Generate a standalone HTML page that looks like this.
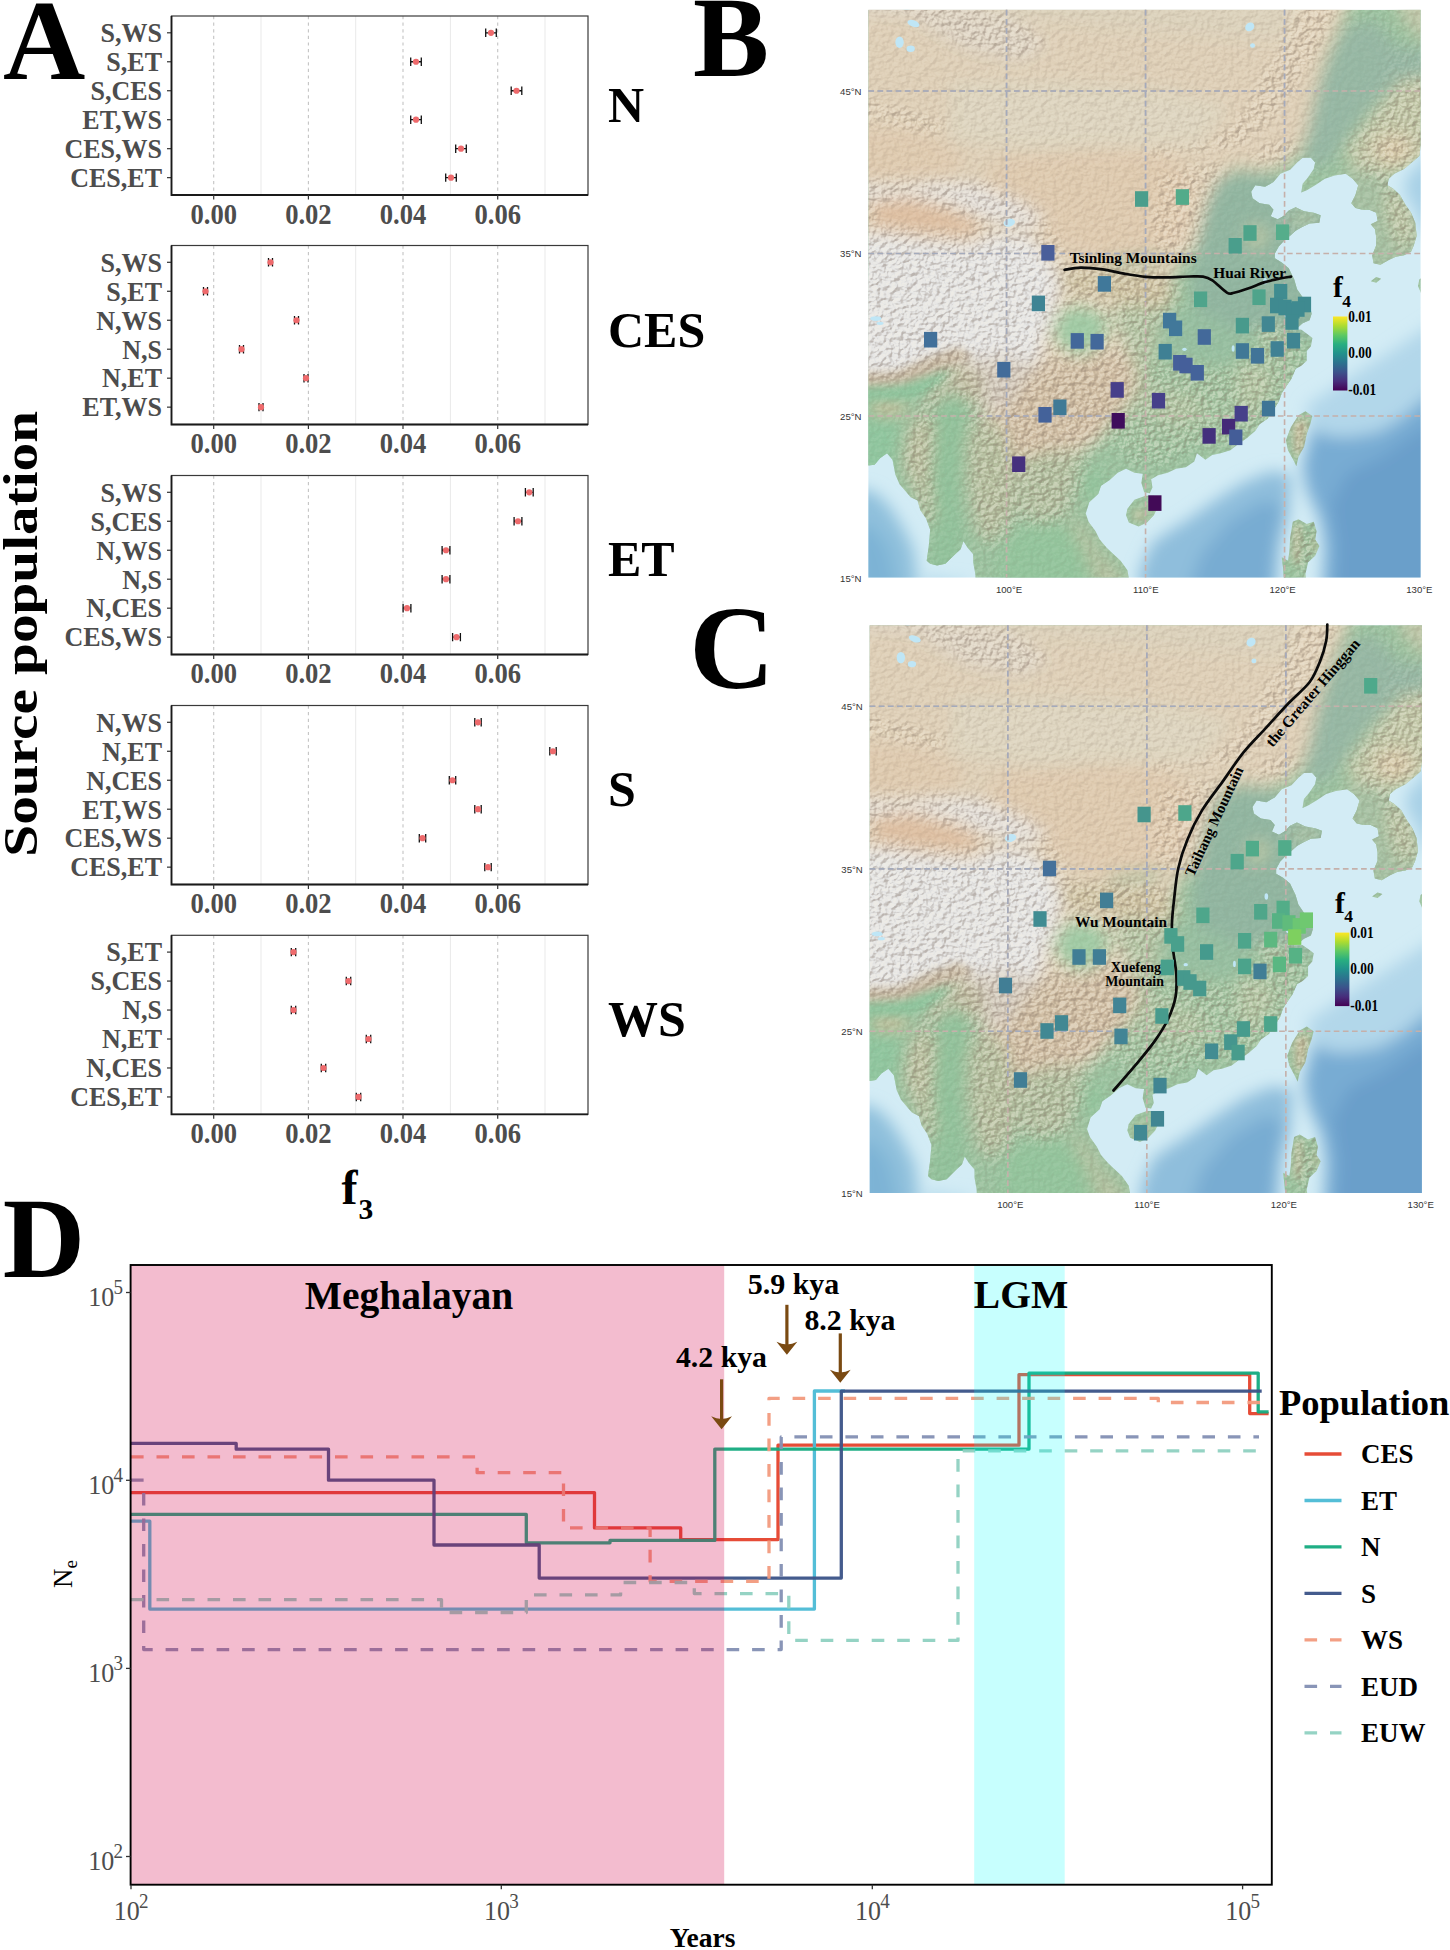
<!DOCTYPE html><html><head><meta charset="utf-8"><title>Figure</title><style>
html,body{margin:0;padding:0;background:#fff}
svg{display:block}
text{font-family:"Liberation Serif",serif}
.sb{font-family:"Liberation Serif",serif;font-weight:bold;fill:#000}
.sr{font-family:"Liberation Serif",serif;font-weight:normal;fill:#000}
.ss{font-family:"Liberation Sans",sans-serif;fill:#333}
.g{fill:#4d4d4d}
</style></head><body>
<svg width="1450" height="1950" viewBox="0 0 1450 1950">
<defs>
<linearGradient id="viridis" x1="0" y1="1" x2="0" y2="0"><stop offset="0" stop-color="#440154"/><stop offset="0.125" stop-color="#472d7b"/><stop offset="0.25" stop-color="#3b528b"/><stop offset="0.375" stop-color="#2c728e"/><stop offset="0.5" stop-color="#21918c"/><stop offset="0.625" stop-color="#28ae80"/><stop offset="0.75" stop-color="#5ec962"/><stop offset="0.875" stop-color="#addc30"/><stop offset="1" stop-color="#fde725"/></linearGradient>
<clipPath id="mapclip"><rect x="0.85" y="0.1" width="552.20" height="567.70"/></clipPath>
<clipPath id="landclip"><path d="M0.0 -8.1 L563.0 -8.1 L563.0 125.1 L556.0 130.0 L553.2 136.5 L551.8 146.2 L546.3 151.1 L536.5 159.2 L526.8 164.1 L521.2 169.0 L519.9 175.5 L525.4 178.8 L532.4 185.2 L537.9 195.0 L543.5 203.1 L547.7 212.9 L549.1 225.9 L546.3 235.6 L543.5 242.1 L536.5 245.4 L528.2 247.0 L521.2 250.2 L512.9 255.1 L506.0 253.5 L504.6 245.4 L508.7 235.6 L508.7 227.5 L507.4 219.4 L503.2 214.5 L510.1 211.2 L508.7 203.1 L501.8 199.9 L494.8 199.9 L487.9 198.3 L483.7 193.4 L487.9 185.2 L490.7 175.5 L485.1 169.0 L478.2 164.1 L467.0 165.8 L457.3 169.0 L447.6 175.5 L439.2 180.4 L433.7 182.8 L435.1 173.9 L440.6 167.4 L446.2 159.2 L447.6 152.7 L443.4 147.9 L435.1 147.9 L429.5 152.7 L422.6 160.1 L412.8 164.1 L405.9 172.3 L397.5 177.1 L387.8 175.5 L383.6 182.0 L385.0 188.5 L392.0 193.4 L401.7 195.0 L405.9 199.9 L403.1 206.4 L410.1 209.6 L415.6 206.4 L421.2 200.7 L428.1 197.4 L436.5 201.5 L446.2 203.1 L453.1 205.6 L451.8 212.9 L442.0 213.7 L433.7 217.7 L428.1 221.0 L422.6 225.9 L418.4 229.1 L411.4 236.4 L407.3 243.8 L407.3 248.6 L414.2 252.7 L421.2 258.4 L426.7 269.8 L429.5 279.5 L435.1 287.6 L442.0 294.9 L444.1 303.9 L442.0 310.4 L435.1 313.6 L429.5 318.5 L425.3 320.1 L433.7 320.1 L440.6 325.0 L444.8 328.2 L443.4 336.4 L439.2 341.2 L439.2 351.0 L433.7 355.9 L428.1 359.1 L423.9 368.9 L418.4 377.0 L414.2 383.5 L411.4 391.6 L407.3 398.1 L403.1 403.0 L400.3 408.7 L392.0 414.4 L387.8 420.9 L379.5 428.2 L371.1 433.9 L362.8 440.4 L353.1 443.6 L344.7 445.2 L337.8 450.1 L329.4 443.6 L326.7 451.8 L318.3 457.4 L308.6 459.1 L300.2 463.1 L290.5 465.6 L283.6 469.6 L284.9 477.8 L282.2 483.4 L276.6 482.6 L273.8 472.9 L275.2 463.9 L266.9 463.1 L258.5 459.1 L250.2 463.1 L241.9 470.4 L233.5 476.1 L230.7 484.2 L221.7 492.4 L218.2 503.8 L221.0 511.9 L228.0 521.6 L232.1 529.8 L239.1 537.9 L246.0 544.4 L253.0 550.9 L259.9 560.6 L262.7 576.9 L108.4 576.9 L107.7 563.9 L105.6 552.5 L105.6 544.4 L100.1 537.9 L95.9 531.4 L93.1 539.5 L87.6 544.4 L77.8 554.1 L69.5 555.8 L62.6 554.1 L59.1 550.9 L61.2 536.2 L62.6 520.0 L58.4 508.6 L52.8 500.5 L50.0 490.8 L43.1 487.5 L38.9 482.6 L32.0 474.5 L27.8 464.8 L25.0 450.1 L19.5 443.6 L12.5 448.5 L7.0 455.0 L-7.0 456.6Z M259.9 498.9 L266.9 489.9 L278.0 485.9 L286.3 485.9 L291.9 493.2 L286.3 505.4 L279.4 512.7 L271.1 516.8 L261.3 512.7 L258.5 505.4Z M430.9 405.4 L437.9 401.4 L444.8 406.2 L442.7 414.4 L439.2 424.1 L436.5 437.1 L430.9 446.9 L428.8 456.6 L425.3 449.3 L420.5 440.4 L418.4 430.6 L423.3 417.6Z M425.3 511.9 L430.9 509.4 L439.2 514.3 L446.2 511.9 L449.0 521.6 L447.6 529.8 L451.8 536.2 L447.6 546.0 L440.6 552.5 L437.9 563.9 L439.2 576.9 L417.0 576.9 L415.6 559.0 L414.2 547.6 L420.5 550.9 L421.9 541.1 L422.6 528.1Z M503.2 271.4 L508.7 267.3 L513.6 268.9 L508.7 273.0Z M551.8 269.8 L563.0 261.6 L563.0 308.8 L558.8 305.5 L558.8 292.5 L553.2 282.8 L550.4 276.2Z"/></clipPath>
<clipPath id="tanclip"><path d="M-55.6 -65.0 L507.4 -65.0 L486.5 -16.2 L472.6 16.2 L458.7 48.8 L449.0 81.2 L443.4 105.6 L439.2 125.1 L432.3 141.4 L422.6 152.7 L408.7 160.1 L389.2 160.9 L368.4 158.4 L354.4 167.4 L341.9 186.9 L339.2 195.0 L332.2 219.4 L326.7 240.5 L311.4 251.9 L308.6 266.5 L291.9 282.8 L272.4 295.8 L250.2 299.0 L229.3 289.2 L201.6 295.8 L186.3 316.9 L189.0 341.2 L208.5 351.0 L236.3 344.5 L262.7 334.8 L266.9 360.8 L262.7 385.1 L248.8 407.9 L234.9 427.4 L218.2 440.4 L196.0 448.5 L168.2 458.2 L151.5 471.2 L137.6 450.1 L125.1 422.5 L112.6 401.4 L102.9 373.8 L84.8 351.0 L59.8 357.5 L27.8 370.5 L-7.0 373.8 L-55.6 373.8Z"/></clipPath>
<filter id="b4" x="-20%" y="-20%" width="140%" height="140%"><feGaussianBlur stdDeviation="4"/></filter>
<filter id="b8" x="-20%" y="-20%" width="140%" height="140%"><feGaussianBlur stdDeviation="8"/></filter>
<filter id="b14" x="-30%" y="-30%" width="160%" height="160%"><feGaussianBlur stdDeviation="14"/></filter>
<filter id="b1" x="-5%" y="-5%" width="110%" height="110%"><feGaussianBlur stdDeviation="0.6"/></filter>
<filter id="relief" x="0" y="0" width="100%" height="100%" color-interpolation-filters="sRGB"><feTurbulence type="fractalNoise" baseFrequency="0.17 0.2" numOctaves="4" seed="11"/><feDiffuseLighting surfaceScale="4.5" diffuseConstant="0.66" lighting-color="#ffffff" result="L"><feDistantLight azimuth="225" elevation="50"/></feDiffuseLighting><feColorMatrix in="L" type="matrix" values="0 0 0 0 0.99  0 0 0 0 0.97  0 0 0 0 0.92  2.4 0 0 0 -1.15" result="hi"/><feColorMatrix in="L" type="matrix" values="0 0 0 0 0.45  0 0 0 0 0.38  0 0 0 0 0.33  -1.0 0 0 0 0.47" result="lo"/><feMerge><feMergeNode in="lo"/><feMergeNode in="hi"/></feMerge></filter>
<filter id="searelief" x="0" y="0" width="100%" height="100%" color-interpolation-filters="sRGB"><feTurbulence type="fractalNoise" baseFrequency="0.03 0.035" numOctaves="3" seed="5"/><feDiffuseLighting surfaceScale="5" diffuseConstant="0.66" lighting-color="#ffffff"><feDistantLight azimuth="225" elevation="50"/></feDiffuseLighting></filter>
<mask id="mtn" maskUnits="userSpaceOnUse" x="0" y="0" width="556.0" height="568.8"><rect x="0" y="0" width="556.0" height="568.8" fill="#5a5a5a"/><g filter="url(#b4)"><path d="M-55.6 170.6 L69.5 169.0 L125.1 172.3 L166.8 195.0 L187.7 219.4 L201.6 251.9 L236.3 255.1 L291.9 256.7 L314.1 276.2 L305.8 300.6 L284.9 316.9 L284.9 357.5 L282.2 390.0 L264.1 412.8 L241.9 432.2 L222.4 445.2 L212.7 479.4 L201.6 507.0 L173.8 516.8 L152.9 510.2 L136.2 529.8 L116.8 539.5 L107.0 511.9 L100.1 471.2 L100.1 430.6 L102.9 398.1 L83.4 377.0 L66.7 396.5 L63.9 471.2 L66.7 510.2 L58.4 515.1 L47.3 482.6 L36.1 455.0 L38.9 425.8 L52.8 396.5 L75.1 364.0 L55.6 357.5 L27.8 370.5 L-55.6 373.8Z" fill="#fff"/><path d="M282.2 351.0 L319.7 357.5 L361.4 359.1 L389.2 342.9 L389.2 315.2 L414.2 315.2 L437.9 333.1 L437.9 357.5 L412.8 403.0 L369.7 433.9 L326.7 438.8 L298.9 455.0 L264.1 455.0 L241.9 432.2 L264.1 409.5 L280.8 385.1Z" fill="#fff"/><path d="M284.9 149.5 L319.7 141.4 L354.4 141.4 L382.2 130.0 L410.1 105.6 L430.9 73.1 L451.8 40.6 L472.6 -8.1 L430.9 -8.1 L403.1 48.8 L379.5 97.5 L347.5 130.0 L312.8 138.1 L284.9 138.1Z" fill="#fff"/><path d="M286.3 170.6 L326.7 154.4 L358.6 156.0 L346.1 173.9 L336.4 203.1 L328.0 240.5 L291.9 247.0 L283.6 219.4Z" fill="#fff"/><path d="M479.6 138.1 L507.4 102.4 L536.5 66.6 L597.7 65.0 L597.7 146.2 L553.2 152.7 L549.1 211.2 L546.3 237.3 L528.2 240.5 L518.5 211.2 L514.3 178.8 L493.4 162.5Z" fill="#fff"/><path d="M382.2 152.7 L410.1 157.6 L430.9 143.0 L423.9 130.0 L396.2 133.3Z" fill="#fff"/><path d="M-55.6 -16.2 L41.7 3.3 L97.3 35.8 L152.9 48.8 L180.7 32.5 L152.9 9.8 L97.3 -6.5 L-55.6 -32.5Z" fill="#fff"/><path d="M-55.6 89.4 L0.0 89.4 L55.6 105.6 L83.4 113.8 L69.5 123.5 L0.0 110.5 L-55.6 108.9Z" fill="#fff"/><path d="M425.3 409.5 L442.0 406.2 L436.5 445.2 L428.1 450.1Z" fill="#fff"/><path d="M423.9 511.9 L450.4 511.9 L449.0 552.5 L436.5 568.8 L428.1 560.6Z" fill="#fff"/><path d="M360.0 167.4 L382.2 164.1 L405.9 169.0 L410.1 206.4 L423.9 251.9 L449.0 287.6 L458.7 316.9 L437.9 321.8 L403.1 310.4 L375.3 318.5 L340.6 316.9 L330.8 300.6 L325.3 273.0 L330.8 240.5 L339.2 203.1 L350.3 173.9Z" fill="#222"/><path d="M439.2 147.9 L444.8 121.9 L450.4 94.2 L457.3 68.3 L469.8 40.6 L480.9 21.1 L507.4 16.2 L522.6 40.6 L507.4 81.2 L494.8 104.0 L478.2 126.7 L461.5 147.9Z" fill="#222"/><path d="M191.8 307.1 L205.7 297.4 L228.0 302.2 L240.5 316.9 L230.7 333.1 L212.7 342.9 L194.6 334.8 L187.7 321.8Z" fill="#333"/><path d="M298.9 307.1 L326.7 303.9 L354.4 315.2 L372.5 325.0 L369.7 342.9 L354.4 349.4 L326.7 344.5 L308.6 342.9 L300.2 329.9Z" fill="#333"/><path d="M83.4 76.4 L194.6 76.4 L305.8 84.5 L354.4 100.8 L330.8 130.0 L250.2 133.3 L166.8 136.5 L83.4 126.7Z" fill="#666"/><path d="M194.6 146.2 L236.3 141.4 L291.9 149.5 L291.9 195.0 L250.2 201.5 L201.6 186.9Z" fill="#555"/><path d="M7.0 195.0 L41.7 190.1 L83.4 201.5 L111.2 214.5 L101.5 224.2 L55.6 221.0 L7.0 212.9Z" fill="#444"/><path d="M-55.6 117.0 L55.6 125.1 L90.4 146.2 L76.5 162.5 L27.8 165.8 L-55.6 164.1Z" fill="#555"/><path d="M162.6 518.4 L187.7 513.5 L205.7 528.1 L219.6 555.8 L225.2 601.2 L136.2 601.2 L134.8 552.5 L141.8 529.8Z" fill="#333"/><path d="M69.5 401.4 L89.0 386.8 L100.1 399.8 L93.1 438.8 L89.0 487.5 L93.1 529.8 L87.6 568.8 L61.2 568.8 L70.9 520.0 L68.1 479.4 L66.7 438.8Z" fill="#333"/><path d="M-55.6 380.2 L20.9 378.6 L55.6 368.9 L76.5 360.8 L75.1 367.2 L52.8 383.5 L27.8 390.0 L7.0 390.0 L4.2 406.2 L29.2 409.5 L27.8 435.5 L19.5 471.2 L-55.6 471.2Z" fill="#333"/><path d="M214.1 464.8 L234.9 463.1 L234.9 481.0 L222.4 490.8 L215.5 481.0Z" fill="#333"/><path d="M236.3 251.1 L282.2 245.4 L300.2 244.6 L282.2 255.1 L243.2 256.7Z" fill="#444"/></g></mask>
<g id="basemap" clip-path="url(#mapclip)" style="isolation:isolate">
<rect x="0" y="0" width="556.0" height="568.8" fill="#d3ecf5"/>
<g filter="url(#b8)">
<path d="M443.4 417.6 L458.7 425.8 L479.6 427.4 L510.1 422.5 L532.4 409.5 L553.2 391.6 L597.7 357.5 L597.7 617.5 L453.1 617.5 L457.3 536.2 L453.1 510.2 L439.2 479.4 L435.1 455.0 L440.6 435.5Z" fill="#78acd3" fill-opacity="1"/>
<path d="M479.6 463.1 L514.3 446.9 L549.1 422.5 L597.7 398.1 L597.7 617.5 L465.7 617.5 L469.8 536.2 L462.9 495.6Z" fill="#6b9fca" fill-opacity="1"/>
<path d="M437.9 396.5 L479.6 368.9 L521.2 342.9 L553.2 321.8 L597.7 292.5 L597.7 357.5 L553.2 391.6 L532.4 409.5 L510.1 422.5 L479.6 427.4 L458.7 425.8 L443.4 417.6Z" fill="#b2d7ea" fill-opacity="1"/>
<path d="M284.9 533.0 L298.9 523.2 L319.7 510.2 L347.5 490.8 L375.3 472.9 L403.1 461.5 L423.9 464.8 L421.2 503.8 L411.4 536.2 L407.3 585.0 L271.1 585.0 L272.4 560.6Z" fill="#8fbedc" fill-opacity="1"/>
<path d="M319.7 585.0 L333.6 544.4 L361.4 511.9 L396.2 490.8 L414.2 495.6 L408.7 544.4 L405.9 585.0Z" fill="#78acd2" fill-opacity="1"/>
<path d="M536.5 182.0 L549.1 203.1 L556.0 224.2 L569.9 230.8 L569.9 121.9 L558.8 133.3 L554.6 152.7 L539.3 165.8Z" fill="#a7d0e6" fill-opacity="1"/>
<path d="M-13.9 477.8 L7.0 482.6 L20.9 495.6 L34.8 516.8 L45.9 539.5 L48.6 560.6 L50.0 585.0 L-13.9 585.0Z" fill="#8fc0dc" fill-opacity="1"/>
<path d="M-13.9 511.9 L7.0 520.0 L20.9 539.5 L30.6 585.0 L-13.9 585.0Z" fill="#7db3d5" fill-opacity="1"/>
<path d="M59.8 565.5 L83.4 572.0 L97.3 570.4 L101.5 585.0 L55.6 585.0Z" fill="#b4d9eb" fill-opacity="1"/>
</g>
<g clip-path="url(#landclip)">
<rect x="0" y="0" width="556.0" height="568.8" fill="#9cc3a0"/>
<g filter="url(#b8)">
<path d="M-55.6 -65.0 L507.4 -65.0 L486.5 -16.2 L472.6 16.2 L458.7 48.8 L449.0 81.2 L443.4 105.6 L439.2 125.1 L432.3 141.4 L422.6 152.7 L408.7 160.1 L389.2 160.9 L368.4 158.4 L354.4 167.4 L341.9 186.9 L339.2 195.0 L332.2 219.4 L326.7 240.5 L311.4 251.9 L308.6 266.5 L291.9 282.8 L272.4 295.8 L258.5 312.0 L262.7 334.8 L266.9 360.8 L262.7 385.1 L248.8 407.9 L234.9 427.4 L218.2 440.4 L196.0 448.5 L168.2 458.2 L151.5 471.2 L137.6 450.1 L125.1 422.5 L112.6 401.4 L102.9 373.8 L84.8 351.0 L59.8 357.5 L27.8 370.5 L-7.0 373.8 L-55.6 373.8Z" fill="#dfd0b8" fill-opacity="1"/>
<path d="M476.8 141.4 L504.6 104.0 L535.1 68.3 L597.7 65.0 L597.7 146.2 L553.2 152.7 L528.2 165.8 L507.4 167.4 L486.5 160.9Z" fill="#c2c8a8" fill-opacity="1"/>
<path d="M504.6 131.6 L533.8 121.9 L549.1 143.0 L528.2 157.6 L510.1 149.5Z" fill="#d7c9a9" fill-opacity="1"/>
<path d="M521.2 -65.0 L597.7 -65.0 L597.7 24.4 L556.0 32.5 L532.4 8.1Z" fill="#bfc7a9" fill-opacity="1"/>
<path d="M435.1 157.6 L440.6 125.1 L446.2 97.5 L453.1 71.5 L465.7 40.6 L478.2 16.2 L507.4 9.8 L528.2 35.8 L556.0 39.0 L597.7 34.1 L597.7 61.7 L532.4 69.9 L508.7 92.6 L492.1 110.5 L476.8 130.0 L464.3 152.7 L449.0 159.2Z" fill="#97b8a4" fill-opacity="1"/>
<path d="M472.6 162.5 L500.4 159.2 L521.2 169.0 L563.0 203.1 L563.0 260.0 L500.4 264.9 L493.4 211.2 L472.6 195.0Z" fill="#a6c1a3" fill-opacity="1"/>
<path d="M518.5 175.5 L536.5 185.2 L547.7 211.2 L544.9 234.0 L531.0 237.3 L522.6 214.5 L517.1 195.0Z" fill="#bdc6a6" fill-opacity="1"/>
<path d="M357.2 165.8 L379.5 162.5 L397.5 164.9 L410.1 169.0 L421.2 180.4 L437.9 190.1 L465.7 199.9 L465.7 227.5 L423.9 251.9 L449.0 287.6 L458.7 316.9 L437.9 328.2 L403.1 318.5 L375.3 325.0 L340.6 321.8 L328.0 300.6 L322.5 273.0 L328.0 240.5 L336.4 203.1 L347.5 173.9Z" fill="#92b6a1" fill-opacity="1"/>
<path d="M378.1 216.1 L397.5 214.5 L403.1 227.5 L392.0 240.5 L378.1 237.3Z" fill="#b5c5a6" fill-opacity="1"/>
<path d="M421.2 201.5 L453.1 204.8 L451.8 214.5 L423.9 217.7Z" fill="#b0c6a7" fill-opacity="1"/>
<path d="M83.4 73.1 L194.6 73.1 L305.8 81.2 L361.4 97.5 L333.6 133.3 L250.2 136.5 L166.8 139.8 L83.4 130.0Z" fill="#ded5c0" fill-opacity="1"/>
<path d="M-55.6 -65.0 L444.8 -65.0 L417.0 32.5 L305.8 22.7 L194.6 13.0 L97.3 6.5 L-55.6 3.3Z" fill="#dcd2bc" fill-opacity="1"/>
<path d="M139.0 146.2 L236.3 138.1 L305.8 146.2 L328.0 170.6 L322.5 219.4 L298.9 245.4 L236.3 250.2 L187.7 235.6 L152.9 203.1 L111.2 170.6Z" fill="#dfcbb0" fill-opacity="1"/>
<path d="M-55.6 113.8 L55.6 121.9 L97.3 146.2 L83.4 167.4 L27.8 170.6 L-55.6 169.0Z" fill="#dfcbb0" fill-opacity="1"/>
<path d="M4.2 191.7 L41.7 186.9 L83.4 198.3 L115.4 214.5 L104.2 227.5 L55.6 224.2 L4.2 216.1Z" fill="#dec0a3" fill-opacity="1"/>
<path d="M-55.6 0.0 L41.7 8.1 L97.3 40.6 L152.9 52.0 L180.7 35.8 L152.9 13.0 L97.3 -3.3 L-55.6 -16.2Z" fill="#ddd3c3" fill-opacity="1"/>
<path d="M-55.6 227.5 L13.9 224.2 L55.6 230.8 L104.2 235.6 L125.1 225.9 L159.8 227.5 L180.7 247.0 L191.8 273.0 L186.3 300.6 L176.5 325.0 L171.0 349.4 L151.5 368.9 L132.1 373.8 L119.5 360.8 L104.2 351.0 L83.4 342.9 L62.6 346.1 L34.8 362.4 L13.9 362.4 L-55.6 365.6Z" fill="#e6e6e5" fill-opacity="1"/>
<path d="M-55.6 173.9 L27.8 177.1 L69.5 173.9 L111.2 175.5 L152.9 193.4 L177.9 209.6 L159.8 219.4 L118.2 208.0 L83.4 193.4 L41.7 185.2 L7.0 188.5 L-55.6 191.7Z" fill="#e3e0db" fill-opacity="1"/>
<path d="M104.2 349.4 L139.0 344.5 L166.8 354.2 L171.0 381.9 L146.0 398.1 L119.5 403.0 L108.4 381.9Z" fill="#d3cabe" fill-opacity="1"/>
<path d="M236.3 250.2 L282.2 244.6 L303.0 243.8 L282.2 256.7 L243.2 258.4Z" fill="#b3c3a4" fill-opacity="1"/>
<path d="M194.6 260.0 L236.3 260.0 L291.9 263.3 L310.0 284.4 L291.9 305.5 L257.2 295.8 L222.4 284.4 L194.6 282.8Z" fill="#cdc2a2" fill-opacity="1"/>
<path d="M240.5 299.0 L272.4 294.1 L294.7 300.6 L291.9 328.2 L286.3 357.5 L280.8 386.8 L264.1 407.9 L248.8 407.9 L258.5 381.9 L259.9 349.4 L253.0 325.0Z" fill="#b3c5a4" fill-opacity="1"/>
<path d="M189.0 305.5 L205.7 294.1 L229.3 299.0 L244.6 315.2 L233.5 336.4 L212.7 347.8 L191.8 338.0 L184.9 321.8Z" fill="#a1cba5" fill-opacity="1"/>
<path d="M296.1 303.9 L326.7 300.6 L354.4 312.0 L375.3 321.8 L372.5 347.8 L354.4 354.2 L326.7 349.4 L305.8 347.8 L296.1 331.5Z" fill="#97bfa1" fill-opacity="1"/>
<path d="M282.2 347.8 L319.7 354.2 L361.4 357.5 L396.2 344.5 L428.1 338.0 L435.1 357.5 L410.1 401.4 L368.4 429.0 L326.7 432.2 L298.9 445.2 L264.1 445.2 L243.2 429.0 L264.1 406.2 L280.8 381.9Z" fill="#a3c4a1" fill-opacity="1"/>
<path d="M369.7 354.2 L397.5 352.6 L407.3 373.8 L389.2 399.8 L372.5 399.8 L369.7 373.8Z" fill="#b4c6a4" fill-opacity="1"/>
<path d="M275.2 377.0 L326.7 385.1 L340.6 406.2 L305.8 416.0 L278.0 403.0Z" fill="#b1c5a3" fill-opacity="1"/>
<path d="M393.4 315.2 L414.2 316.9 L423.9 338.0 L403.1 342.9 L389.2 333.1Z" fill="#aac5a3" fill-opacity="1"/>
<path d="M173.8 352.6 L201.6 351.0 L229.3 346.1 L264.1 344.5 L271.1 373.8 L254.4 403.0 L226.6 429.0 L198.8 437.1 L171.0 445.2 L150.1 455.0 L136.2 438.8 L130.7 412.8 L143.2 390.0 L161.2 367.2Z" fill="#d2c0a6" fill-opacity="1"/>
<path d="M105.6 406.2 L132.1 414.4 L147.3 455.0 L150.1 495.6 L133.4 526.5 L116.8 533.0 L105.6 511.9 L98.7 471.2 L98.7 430.6Z" fill="#b6c0a0" fill-opacity="1"/>
<path d="M150.1 450.1 L187.7 440.4 L215.5 440.4 L208.5 477.8 L198.8 503.8 L173.8 513.5 L152.9 505.4Z" fill="#b2c0a0" fill-opacity="1"/>
<path d="M201.6 500.5 L219.6 520.0 L236.3 547.6 L253.0 560.6 L257.2 601.2 L236.3 601.2 L222.4 555.8 L205.7 526.5Z" fill="#b3c1a0" fill-opacity="1"/>
<path d="M212.7 463.1 L236.3 461.5 L236.3 482.6 L222.4 494.0 L214.1 482.6Z" fill="#93c59d" fill-opacity="1"/>
<path d="M159.8 515.1 L187.7 510.2 L208.5 526.5 L222.4 555.8 L229.3 601.2 L132.1 601.2 L130.7 552.5 L139.0 526.5Z" fill="#94c59d" fill-opacity="1"/>
<path d="M66.7 398.1 L90.4 381.9 L102.9 398.1 L95.9 438.8 L91.7 487.5 L95.9 529.8 L90.4 568.8 L55.6 568.8 L68.1 520.0 L63.9 479.4 L62.6 438.8Z" fill="#92c29b" fill-opacity="1"/>
<path d="M38.9 425.8 L54.2 398.1 L66.7 414.4 L62.6 471.2 L66.7 510.2 L59.8 513.5 L48.6 482.6 L36.1 455.0Z" fill="#bcc0a0" fill-opacity="1"/>
<path d="M50.0 393.2 L76.5 365.6 L100.1 354.2 L116.8 368.9 L116.8 398.1 L100.1 391.6 L83.4 378.6 L65.3 394.9Z" fill="#bfbca1" fill-opacity="1"/>
<path d="M-55.6 378.6 L20.9 377.0 L55.6 367.2 L80.6 357.5 L77.8 367.2 L52.8 385.1 L27.8 391.6 L7.0 391.6 L4.2 406.2 L32.0 407.9 L30.6 435.5 L20.9 471.2 L-55.6 471.2Z" fill="#90c69f" fill-opacity="1"/>
<path d="M2.8 391.6 L36.1 390.0 L37.5 404.6 L2.8 404.6Z" fill="#cbbf9d" fill-opacity="1"/>
</g>
<g filter="url(#b4)">
<path d="M-55.6 243.8 L-55.6 361.6 L-13.9 361.6 L27.8 359.9 L62.6 344.5 L90.4 334.8 L111.2 334.8 L119.5 315.2 L125.1 292.5 L69.5 276.2 L0.0 268.1Z" fill="#e6e6e5" fill-opacity="1"/>
<path d="M-55.6 362.4 L-13.9 362.4 L27.8 360.8 L62.6 346.1 L90.4 336.4 L105.6 347.8 L77.8 359.9 L34.8 373.8 L-13.9 376.2 L-55.6 376.2Z" fill="#c6b8a2" fill-opacity="1"/>
<path d="M-9.7 377.8 L27.8 376.2 L55.6 368.1 L80.6 358.3 L75.1 369.7 L52.8 385.9 L27.8 390.0 L-5.6 389.2Z" fill="#8fc49d" fill-opacity="1"/>
</g>
<g filter="url(#b4)">
<path d="M425.3 412.8 L440.6 407.9 L435.1 442.0 L428.1 448.5Z" fill="#cdbf9f" fill-opacity="0.9"/>
<path d="M418.4 424.1 L426.7 420.9 L425.3 446.9 L419.8 442.0Z" fill="#9ec3a1" fill-opacity="1"/>
<path d="M426.7 515.1 L433.7 515.1 L432.3 557.4 L425.3 549.2Z" fill="#c7be9e" fill-opacity="0.9"/>
<path d="M436.5 518.4 L444.8 524.9 L442.0 541.1 L436.5 536.2Z" fill="#8fbf9a" fill-opacity="1"/>
<path d="M444.8 520.0 L450.4 533.0 L446.2 547.6 L442.0 539.5Z" fill="#bdbd9c" fill-opacity="0.8"/>
<path d="M414.2 550.9 L425.3 554.1 L429.5 576.9 L417.0 576.9Z" fill="#9ac49f" fill-opacity="1"/>
<path d="M261.3 498.9 L289.1 489.1 L290.5 497.2 L282.2 510.2 L264.1 511.9Z" fill="#9fc5a0" fill-opacity="1"/>
<path d="M266.9 500.5 L278.0 500.5 L276.6 510.2 L266.9 510.2Z" fill="#c2be9d" fill-opacity="0.9"/>
</g>
<g mask="url(#mtn)" opacity="0.8"><rect x="0" y="0" width="556.0" height="568.8" filter="url(#relief)"/></g>
</g>
<ellipse cx="141.8" cy="212.9" rx="5.8" ry="3.9" fill="#bfe6f6" fill-opacity="1" transform="rotate(-15 141.8 212.9)"/>
<ellipse cx="38.9" cy="-3.3" rx="5.6" ry="3.6" fill="#bfe6f6" fill-opacity="1"/>
<ellipse cx="45.9" cy="13.8" rx="6.3" ry="3.2" fill="#bfe6f6" fill-opacity="1" transform="rotate(20 45.9 13.8)"/>
<ellipse cx="32.0" cy="32.5" rx="4.2" ry="5.7" fill="#bfe6f6" fill-opacity="1"/>
<ellipse cx="43.1" cy="39.0" rx="4.2" ry="3.2" fill="#bfe6f6" fill-opacity="1"/>
<ellipse cx="382.2" cy="17.1" rx="4.9" ry="4.1" fill="#bfe6f6" fill-opacity="1" transform="rotate(-40 382.2 17.1)"/>
<ellipse cx="385.0" cy="35.8" rx="2.5" ry="2.3" fill="#bfe6f6" fill-opacity="1"/>
<ellipse cx="8.3" cy="308.8" rx="5.6" ry="2.4" fill="#bfe6f6" fill-opacity="1"/>
<ellipse cx="12.5" cy="313.6" rx="3.5" ry="1.6" fill="#bfe6f6" fill-opacity="1"/>
<ellipse cx="397.5" cy="271.4" rx="1.8" ry="3.2" fill="#bfe6f6" fill-opacity="1"/>
<ellipse cx="419.8" cy="305.5" rx="2.8" ry="2.6" fill="#bfe6f6" fill-opacity="1"/>
<ellipse cx="365.6" cy="338.8" rx="1.4" ry="3.2" fill="#bfe6f6" fill-opacity="1"/>
<ellipse cx="316.9" cy="339.6" rx="2.2" ry="1.6" fill="#bfe6f6" fill-opacity="1"/>
</g>
</defs>
<rect width="1450" height="1950" fill="#fff"/>
<rect x="171.5" y="16" width="416.5" height="179" fill="#fff"/>
<line x1="261.0" y1="16" x2="261.0" y2="195" stroke="#e9e9e9" stroke-width="1"/>
<line x1="355.7" y1="16" x2="355.7" y2="195" stroke="#e9e9e9" stroke-width="1"/>
<line x1="450.4" y1="16" x2="450.4" y2="195" stroke="#e9e9e9" stroke-width="1"/>
<line x1="545.0" y1="16" x2="545.0" y2="195" stroke="#e9e9e9" stroke-width="1"/>
<line x1="213.7" y1="16" x2="213.7" y2="195" stroke="#c4c4c4" stroke-width="1.1" stroke-dasharray="3.2 3.4"/>
<line x1="308.4" y1="16" x2="308.4" y2="195" stroke="#c4c4c4" stroke-width="1.1" stroke-dasharray="3.2 3.4"/>
<line x1="403.0" y1="16" x2="403.0" y2="195" stroke="#c4c4c4" stroke-width="1.1" stroke-dasharray="3.2 3.4"/>
<line x1="497.7" y1="16" x2="497.7" y2="195" stroke="#c4c4c4" stroke-width="1.1" stroke-dasharray="3.2 3.4"/>
<path d="M485.7 32.8H496.3M485.7 28.599999999999998V37.0M496.3 28.599999999999998V37.0" stroke="#111" stroke-width="1.3" fill="none"/>
<circle cx="491" cy="32.8" r="3.1" fill="#ee6a6c"/>
<line x1="167.0" y1="32.8" x2="171.5" y2="32.8" stroke="#333" stroke-width="1.2"/>
<text transform="translate(162,42.099999999999994) scale(1,1.06)" text-anchor="end" class="sb g" font-size="26">S,WS</text>
<path d="M410.7 61.769999999999996H421.3M410.7 57.56999999999999V65.97M421.3 57.56999999999999V65.97" stroke="#111" stroke-width="1.3" fill="none"/>
<circle cx="416" cy="61.769999999999996" r="3.1" fill="#ee6a6c"/>
<line x1="167.0" y1="61.769999999999996" x2="171.5" y2="61.769999999999996" stroke="#333" stroke-width="1.2"/>
<text transform="translate(162,71.07) scale(1,1.06)" text-anchor="end" class="sb g" font-size="26">S,ET</text>
<path d="M511.2 90.74H521.8M511.2 86.53999999999999V94.94M521.8 86.53999999999999V94.94" stroke="#111" stroke-width="1.3" fill="none"/>
<circle cx="516.5" cy="90.74" r="3.1" fill="#ee6a6c"/>
<line x1="167.0" y1="90.74" x2="171.5" y2="90.74" stroke="#333" stroke-width="1.2"/>
<text transform="translate(162,100.03999999999999) scale(1,1.06)" text-anchor="end" class="sb g" font-size="26">S,CES</text>
<path d="M410.7 119.71H421.3M410.7 115.50999999999999V123.91M421.3 115.50999999999999V123.91" stroke="#111" stroke-width="1.3" fill="none"/>
<circle cx="416" cy="119.71" r="3.1" fill="#ee6a6c"/>
<line x1="167.0" y1="119.71" x2="171.5" y2="119.71" stroke="#333" stroke-width="1.2"/>
<text transform="translate(162,129.01) scale(1,1.06)" text-anchor="end" class="sb g" font-size="26">ET,WS</text>
<path d="M455.7 148.68H466.3M455.7 144.48000000000002V152.88M466.3 144.48000000000002V152.88" stroke="#111" stroke-width="1.3" fill="none"/>
<circle cx="461" cy="148.68" r="3.1" fill="#ee6a6c"/>
<line x1="167.0" y1="148.68" x2="171.5" y2="148.68" stroke="#333" stroke-width="1.2"/>
<text transform="translate(162,157.98000000000002) scale(1,1.06)" text-anchor="end" class="sb g" font-size="26">CES,WS</text>
<path d="M445.7 177.64999999999998H456.3M445.7 173.45V181.84999999999997M456.3 173.45V181.84999999999997" stroke="#111" stroke-width="1.3" fill="none"/>
<circle cx="451" cy="177.64999999999998" r="3.1" fill="#ee6a6c"/>
<line x1="167.0" y1="177.64999999999998" x2="171.5" y2="177.64999999999998" stroke="#333" stroke-width="1.2"/>
<text transform="translate(162,186.95) scale(1,1.06)" text-anchor="end" class="sb g" font-size="26">CES,ET</text>
<rect x="171.5" y="16" width="416.5" height="179" fill="none" stroke="#3a3a3a" stroke-width="1.2"/>
<path d="M171.5 16V195H588" fill="none" stroke="#1a1a1a" stroke-width="1.8"/>
<line x1="213.7" y1="195" x2="213.7" y2="199.5" stroke="#333" stroke-width="1.2"/>
<text transform="translate(213.7,223.7) scale(1.015,1.13)" text-anchor="middle" class="sb g" font-size="26.2">0.00</text>
<line x1="308.4" y1="195" x2="308.4" y2="199.5" stroke="#333" stroke-width="1.2"/>
<text transform="translate(308.4,223.7) scale(1.015,1.13)" text-anchor="middle" class="sb g" font-size="26.2">0.02</text>
<line x1="403.0" y1="195" x2="403.0" y2="199.5" stroke="#333" stroke-width="1.2"/>
<text transform="translate(403.0,223.7) scale(1.015,1.13)" text-anchor="middle" class="sb g" font-size="26.2">0.04</text>
<line x1="497.7" y1="195" x2="497.7" y2="199.5" stroke="#333" stroke-width="1.2"/>
<text transform="translate(497.7,223.7) scale(1.015,1.13)" text-anchor="middle" class="sb g" font-size="26.2">0.06</text>
<rect x="171.5" y="245.5" width="416.5" height="179" fill="#fff"/>
<line x1="261.0" y1="245.5" x2="261.0" y2="424.5" stroke="#e9e9e9" stroke-width="1"/>
<line x1="355.7" y1="245.5" x2="355.7" y2="424.5" stroke="#e9e9e9" stroke-width="1"/>
<line x1="450.4" y1="245.5" x2="450.4" y2="424.5" stroke="#e9e9e9" stroke-width="1"/>
<line x1="545.0" y1="245.5" x2="545.0" y2="424.5" stroke="#e9e9e9" stroke-width="1"/>
<line x1="213.7" y1="245.5" x2="213.7" y2="424.5" stroke="#c4c4c4" stroke-width="1.1" stroke-dasharray="3.2 3.4"/>
<line x1="308.4" y1="245.5" x2="308.4" y2="424.5" stroke="#c4c4c4" stroke-width="1.1" stroke-dasharray="3.2 3.4"/>
<line x1="403.0" y1="245.5" x2="403.0" y2="424.5" stroke="#c4c4c4" stroke-width="1.1" stroke-dasharray="3.2 3.4"/>
<line x1="497.7" y1="245.5" x2="497.7" y2="424.5" stroke="#c4c4c4" stroke-width="1.1" stroke-dasharray="3.2 3.4"/>
<path d="M268.5 262.3H272.5M268.5 258.1V266.5M272.5 258.1V266.5" stroke="#111" stroke-width="1.3" fill="none"/>
<circle cx="270.5" cy="262.3" r="3.1" fill="#ee6a6c"/>
<line x1="167.0" y1="262.3" x2="171.5" y2="262.3" stroke="#333" stroke-width="1.2"/>
<text transform="translate(162,271.6) scale(1,1.06)" text-anchor="end" class="sb g" font-size="26">S,WS</text>
<path d="M203.5 291.27H207.5M203.5 287.07V295.46999999999997M207.5 287.07V295.46999999999997" stroke="#111" stroke-width="1.3" fill="none"/>
<circle cx="205.5" cy="291.27" r="3.1" fill="#ee6a6c"/>
<line x1="167.0" y1="291.27" x2="171.5" y2="291.27" stroke="#333" stroke-width="1.2"/>
<text transform="translate(162,300.57) scale(1,1.06)" text-anchor="end" class="sb g" font-size="26">S,ET</text>
<path d="M294.5 320.24H298.5M294.5 316.04V324.44M298.5 316.04V324.44" stroke="#111" stroke-width="1.3" fill="none"/>
<circle cx="296.5" cy="320.24" r="3.1" fill="#ee6a6c"/>
<line x1="167.0" y1="320.24" x2="171.5" y2="320.24" stroke="#333" stroke-width="1.2"/>
<text transform="translate(162,329.54) scale(1,1.06)" text-anchor="end" class="sb g" font-size="26">N,WS</text>
<path d="M239.5 349.21000000000004H243.5M239.5 345.01000000000005V353.41M243.5 345.01000000000005V353.41" stroke="#111" stroke-width="1.3" fill="none"/>
<circle cx="241.5" cy="349.21000000000004" r="3.1" fill="#ee6a6c"/>
<line x1="167.0" y1="349.21000000000004" x2="171.5" y2="349.21000000000004" stroke="#333" stroke-width="1.2"/>
<text transform="translate(162,358.51000000000005) scale(1,1.06)" text-anchor="end" class="sb g" font-size="26">N,S</text>
<path d="M304.0 378.18H308.0M304.0 373.98V382.38M308.0 373.98V382.38" stroke="#111" stroke-width="1.3" fill="none"/>
<circle cx="306" cy="378.18" r="3.1" fill="#ee6a6c"/>
<line x1="167.0" y1="378.18" x2="171.5" y2="378.18" stroke="#333" stroke-width="1.2"/>
<text transform="translate(162,387.48) scale(1,1.06)" text-anchor="end" class="sb g" font-size="26">N,ET</text>
<path d="M259.0 407.15H263.0M259.0 402.95V411.34999999999997M263.0 402.95V411.34999999999997" stroke="#111" stroke-width="1.3" fill="none"/>
<circle cx="261" cy="407.15" r="3.1" fill="#ee6a6c"/>
<line x1="167.0" y1="407.15" x2="171.5" y2="407.15" stroke="#333" stroke-width="1.2"/>
<text transform="translate(162,416.45) scale(1,1.06)" text-anchor="end" class="sb g" font-size="26">ET,WS</text>
<rect x="171.5" y="245.5" width="416.5" height="179" fill="none" stroke="#3a3a3a" stroke-width="1.2"/>
<path d="M171.5 245.5V424.5H588" fill="none" stroke="#1a1a1a" stroke-width="1.8"/>
<line x1="213.7" y1="424.5" x2="213.7" y2="429.0" stroke="#333" stroke-width="1.2"/>
<text transform="translate(213.7,453.2) scale(1.015,1.13)" text-anchor="middle" class="sb g" font-size="26.2">0.00</text>
<line x1="308.4" y1="424.5" x2="308.4" y2="429.0" stroke="#333" stroke-width="1.2"/>
<text transform="translate(308.4,453.2) scale(1.015,1.13)" text-anchor="middle" class="sb g" font-size="26.2">0.02</text>
<line x1="403.0" y1="424.5" x2="403.0" y2="429.0" stroke="#333" stroke-width="1.2"/>
<text transform="translate(403.0,453.2) scale(1.015,1.13)" text-anchor="middle" class="sb g" font-size="26.2">0.04</text>
<line x1="497.7" y1="424.5" x2="497.7" y2="429.0" stroke="#333" stroke-width="1.2"/>
<text transform="translate(497.7,453.2) scale(1.015,1.13)" text-anchor="middle" class="sb g" font-size="26.2">0.06</text>
<rect x="171.5" y="475.5" width="416.5" height="179" fill="#fff"/>
<line x1="261.0" y1="475.5" x2="261.0" y2="654.5" stroke="#e9e9e9" stroke-width="1"/>
<line x1="355.7" y1="475.5" x2="355.7" y2="654.5" stroke="#e9e9e9" stroke-width="1"/>
<line x1="450.4" y1="475.5" x2="450.4" y2="654.5" stroke="#e9e9e9" stroke-width="1"/>
<line x1="545.0" y1="475.5" x2="545.0" y2="654.5" stroke="#e9e9e9" stroke-width="1"/>
<line x1="213.7" y1="475.5" x2="213.7" y2="654.5" stroke="#c4c4c4" stroke-width="1.1" stroke-dasharray="3.2 3.4"/>
<line x1="308.4" y1="475.5" x2="308.4" y2="654.5" stroke="#c4c4c4" stroke-width="1.1" stroke-dasharray="3.2 3.4"/>
<line x1="403.0" y1="475.5" x2="403.0" y2="654.5" stroke="#c4c4c4" stroke-width="1.1" stroke-dasharray="3.2 3.4"/>
<line x1="497.7" y1="475.5" x2="497.7" y2="654.5" stroke="#c4c4c4" stroke-width="1.1" stroke-dasharray="3.2 3.4"/>
<path d="M525.4 492.3H533.2M525.4 488.1V496.5M533.2 488.1V496.5" stroke="#111" stroke-width="1.3" fill="none"/>
<circle cx="529.3" cy="492.3" r="3.1" fill="#ee6a6c"/>
<line x1="167.0" y1="492.3" x2="171.5" y2="492.3" stroke="#333" stroke-width="1.2"/>
<text transform="translate(162,501.6) scale(1,1.06)" text-anchor="end" class="sb g" font-size="26">S,WS</text>
<path d="M514.1 521.27H521.9M514.1 517.0699999999999V525.47M521.9 517.0699999999999V525.47" stroke="#111" stroke-width="1.3" fill="none"/>
<circle cx="518" cy="521.27" r="3.1" fill="#ee6a6c"/>
<line x1="167.0" y1="521.27" x2="171.5" y2="521.27" stroke="#333" stroke-width="1.2"/>
<text transform="translate(162,530.5699999999999) scale(1,1.06)" text-anchor="end" class="sb g" font-size="26">S,CES</text>
<path d="M442.1 550.24H449.9M442.1 546.04V554.44M449.9 546.04V554.44" stroke="#111" stroke-width="1.3" fill="none"/>
<circle cx="446" cy="550.24" r="3.1" fill="#ee6a6c"/>
<line x1="167.0" y1="550.24" x2="171.5" y2="550.24" stroke="#333" stroke-width="1.2"/>
<text transform="translate(162,559.54) scale(1,1.06)" text-anchor="end" class="sb g" font-size="26">N,WS</text>
<path d="M442.1 579.21H449.9M442.1 575.01V583.4100000000001M449.9 575.01V583.4100000000001" stroke="#111" stroke-width="1.3" fill="none"/>
<circle cx="446" cy="579.21" r="3.1" fill="#ee6a6c"/>
<line x1="167.0" y1="579.21" x2="171.5" y2="579.21" stroke="#333" stroke-width="1.2"/>
<text transform="translate(162,588.51) scale(1,1.06)" text-anchor="end" class="sb g" font-size="26">N,S</text>
<path d="M403.1 608.1800000000001H410.9M403.1 603.98V612.3800000000001M410.9 603.98V612.3800000000001" stroke="#111" stroke-width="1.3" fill="none"/>
<circle cx="407" cy="608.1800000000001" r="3.1" fill="#ee6a6c"/>
<line x1="167.0" y1="608.1800000000001" x2="171.5" y2="608.1800000000001" stroke="#333" stroke-width="1.2"/>
<text transform="translate(162,617.48) scale(1,1.06)" text-anchor="end" class="sb g" font-size="26">N,CES</text>
<path d="M452.6 637.15H460.4M452.6 632.9499999999999V641.35M460.4 632.9499999999999V641.35" stroke="#111" stroke-width="1.3" fill="none"/>
<circle cx="456.5" cy="637.15" r="3.1" fill="#ee6a6c"/>
<line x1="167.0" y1="637.15" x2="171.5" y2="637.15" stroke="#333" stroke-width="1.2"/>
<text transform="translate(162,646.4499999999999) scale(1,1.06)" text-anchor="end" class="sb g" font-size="26">CES,WS</text>
<rect x="171.5" y="475.5" width="416.5" height="179" fill="none" stroke="#3a3a3a" stroke-width="1.2"/>
<path d="M171.5 475.5V654.5H588" fill="none" stroke="#1a1a1a" stroke-width="1.8"/>
<line x1="213.7" y1="654.5" x2="213.7" y2="659.0" stroke="#333" stroke-width="1.2"/>
<text transform="translate(213.7,683.2) scale(1.015,1.13)" text-anchor="middle" class="sb g" font-size="26.2">0.00</text>
<line x1="308.4" y1="654.5" x2="308.4" y2="659.0" stroke="#333" stroke-width="1.2"/>
<text transform="translate(308.4,683.2) scale(1.015,1.13)" text-anchor="middle" class="sb g" font-size="26.2">0.02</text>
<line x1="403.0" y1="654.5" x2="403.0" y2="659.0" stroke="#333" stroke-width="1.2"/>
<text transform="translate(403.0,683.2) scale(1.015,1.13)" text-anchor="middle" class="sb g" font-size="26.2">0.04</text>
<line x1="497.7" y1="654.5" x2="497.7" y2="659.0" stroke="#333" stroke-width="1.2"/>
<text transform="translate(497.7,683.2) scale(1.015,1.13)" text-anchor="middle" class="sb g" font-size="26.2">0.06</text>
<rect x="171.5" y="705.5" width="416.5" height="179" fill="#fff"/>
<line x1="261.0" y1="705.5" x2="261.0" y2="884.5" stroke="#e9e9e9" stroke-width="1"/>
<line x1="355.7" y1="705.5" x2="355.7" y2="884.5" stroke="#e9e9e9" stroke-width="1"/>
<line x1="450.4" y1="705.5" x2="450.4" y2="884.5" stroke="#e9e9e9" stroke-width="1"/>
<line x1="545.0" y1="705.5" x2="545.0" y2="884.5" stroke="#e9e9e9" stroke-width="1"/>
<line x1="213.7" y1="705.5" x2="213.7" y2="884.5" stroke="#c4c4c4" stroke-width="1.1" stroke-dasharray="3.2 3.4"/>
<line x1="308.4" y1="705.5" x2="308.4" y2="884.5" stroke="#c4c4c4" stroke-width="1.1" stroke-dasharray="3.2 3.4"/>
<line x1="403.0" y1="705.5" x2="403.0" y2="884.5" stroke="#c4c4c4" stroke-width="1.1" stroke-dasharray="3.2 3.4"/>
<line x1="497.7" y1="705.5" x2="497.7" y2="884.5" stroke="#c4c4c4" stroke-width="1.1" stroke-dasharray="3.2 3.4"/>
<path d="M474.8 722.3H481.2M474.8 718.0999999999999V726.5M481.2 718.0999999999999V726.5" stroke="#111" stroke-width="1.3" fill="none"/>
<circle cx="478" cy="722.3" r="3.1" fill="#ee6a6c"/>
<line x1="167.0" y1="722.3" x2="171.5" y2="722.3" stroke="#333" stroke-width="1.2"/>
<text transform="translate(162,731.5999999999999) scale(1,1.06)" text-anchor="end" class="sb g" font-size="26">N,WS</text>
<path d="M549.8 751.27H556.2M549.8 747.0699999999999V755.47M556.2 747.0699999999999V755.47" stroke="#111" stroke-width="1.3" fill="none"/>
<circle cx="553" cy="751.27" r="3.1" fill="#ee6a6c"/>
<line x1="167.0" y1="751.27" x2="171.5" y2="751.27" stroke="#333" stroke-width="1.2"/>
<text transform="translate(162,760.5699999999999) scale(1,1.06)" text-anchor="end" class="sb g" font-size="26">N,ET</text>
<path d="M449.3 780.24H455.7M449.3 776.04V784.44M455.7 776.04V784.44" stroke="#111" stroke-width="1.3" fill="none"/>
<circle cx="452.5" cy="780.24" r="3.1" fill="#ee6a6c"/>
<line x1="167.0" y1="780.24" x2="171.5" y2="780.24" stroke="#333" stroke-width="1.2"/>
<text transform="translate(162,789.54) scale(1,1.06)" text-anchor="end" class="sb g" font-size="26">N,CES</text>
<path d="M474.8 809.2099999999999H481.2M474.8 805.0099999999999V813.41M481.2 805.0099999999999V813.41" stroke="#111" stroke-width="1.3" fill="none"/>
<circle cx="478" cy="809.2099999999999" r="3.1" fill="#ee6a6c"/>
<line x1="167.0" y1="809.2099999999999" x2="171.5" y2="809.2099999999999" stroke="#333" stroke-width="1.2"/>
<text transform="translate(162,818.5099999999999) scale(1,1.06)" text-anchor="end" class="sb g" font-size="26">ET,WS</text>
<path d="M419.3 838.18H425.7M419.3 833.9799999999999V842.38M425.7 833.9799999999999V842.38" stroke="#111" stroke-width="1.3" fill="none"/>
<circle cx="422.5" cy="838.18" r="3.1" fill="#ee6a6c"/>
<line x1="167.0" y1="838.18" x2="171.5" y2="838.18" stroke="#333" stroke-width="1.2"/>
<text transform="translate(162,847.4799999999999) scale(1,1.06)" text-anchor="end" class="sb g" font-size="26">CES,WS</text>
<path d="M484.8 867.15H491.2M484.8 862.9499999999999V871.35M491.2 862.9499999999999V871.35" stroke="#111" stroke-width="1.3" fill="none"/>
<circle cx="488" cy="867.15" r="3.1" fill="#ee6a6c"/>
<line x1="167.0" y1="867.15" x2="171.5" y2="867.15" stroke="#333" stroke-width="1.2"/>
<text transform="translate(162,876.4499999999999) scale(1,1.06)" text-anchor="end" class="sb g" font-size="26">CES,ET</text>
<rect x="171.5" y="705.5" width="416.5" height="179" fill="none" stroke="#3a3a3a" stroke-width="1.2"/>
<path d="M171.5 705.5V884.5H588" fill="none" stroke="#1a1a1a" stroke-width="1.8"/>
<line x1="213.7" y1="884.5" x2="213.7" y2="889.0" stroke="#333" stroke-width="1.2"/>
<text transform="translate(213.7,913.2) scale(1.015,1.13)" text-anchor="middle" class="sb g" font-size="26.2">0.00</text>
<line x1="308.4" y1="884.5" x2="308.4" y2="889.0" stroke="#333" stroke-width="1.2"/>
<text transform="translate(308.4,913.2) scale(1.015,1.13)" text-anchor="middle" class="sb g" font-size="26.2">0.02</text>
<line x1="403.0" y1="884.5" x2="403.0" y2="889.0" stroke="#333" stroke-width="1.2"/>
<text transform="translate(403.0,913.2) scale(1.015,1.13)" text-anchor="middle" class="sb g" font-size="26.2">0.04</text>
<line x1="497.7" y1="884.5" x2="497.7" y2="889.0" stroke="#333" stroke-width="1.2"/>
<text transform="translate(497.7,913.2) scale(1.015,1.13)" text-anchor="middle" class="sb g" font-size="26.2">0.06</text>
<rect x="171.5" y="935.3" width="416.5" height="179" fill="#fff"/>
<line x1="261.0" y1="935.3" x2="261.0" y2="1114.3" stroke="#e9e9e9" stroke-width="1"/>
<line x1="355.7" y1="935.3" x2="355.7" y2="1114.3" stroke="#e9e9e9" stroke-width="1"/>
<line x1="450.4" y1="935.3" x2="450.4" y2="1114.3" stroke="#e9e9e9" stroke-width="1"/>
<line x1="545.0" y1="935.3" x2="545.0" y2="1114.3" stroke="#e9e9e9" stroke-width="1"/>
<line x1="213.7" y1="935.3" x2="213.7" y2="1114.3" stroke="#c4c4c4" stroke-width="1.1" stroke-dasharray="3.2 3.4"/>
<line x1="308.4" y1="935.3" x2="308.4" y2="1114.3" stroke="#c4c4c4" stroke-width="1.1" stroke-dasharray="3.2 3.4"/>
<line x1="403.0" y1="935.3" x2="403.0" y2="1114.3" stroke="#c4c4c4" stroke-width="1.1" stroke-dasharray="3.2 3.4"/>
<line x1="497.7" y1="935.3" x2="497.7" y2="1114.3" stroke="#c4c4c4" stroke-width="1.1" stroke-dasharray="3.2 3.4"/>
<path d="M291.3 952.0999999999999H295.7M291.3 947.8999999999999V956.3M295.7 947.8999999999999V956.3" stroke="#111" stroke-width="1.3" fill="none"/>
<circle cx="293.5" cy="952.0999999999999" r="3.1" fill="#ee6a6c"/>
<line x1="167.0" y1="952.0999999999999" x2="171.5" y2="952.0999999999999" stroke="#333" stroke-width="1.2"/>
<text transform="translate(162,961.3999999999999) scale(1,1.06)" text-anchor="end" class="sb g" font-size="26">S,ET</text>
<path d="M346.3 981.0699999999999H350.7M346.3 976.8699999999999V985.27M350.7 976.8699999999999V985.27" stroke="#111" stroke-width="1.3" fill="none"/>
<circle cx="348.5" cy="981.0699999999999" r="3.1" fill="#ee6a6c"/>
<line x1="167.0" y1="981.0699999999999" x2="171.5" y2="981.0699999999999" stroke="#333" stroke-width="1.2"/>
<text transform="translate(162,990.3699999999999) scale(1,1.06)" text-anchor="end" class="sb g" font-size="26">S,CES</text>
<path d="M291.3 1010.04H295.7M291.3 1005.8399999999999V1014.24M295.7 1005.8399999999999V1014.24" stroke="#111" stroke-width="1.3" fill="none"/>
<circle cx="293.5" cy="1010.04" r="3.1" fill="#ee6a6c"/>
<line x1="167.0" y1="1010.04" x2="171.5" y2="1010.04" stroke="#333" stroke-width="1.2"/>
<text transform="translate(162,1019.3399999999999) scale(1,1.06)" text-anchor="end" class="sb g" font-size="26">N,S</text>
<path d="M366.3 1039.01H370.7M366.3 1034.81V1043.21M370.7 1034.81V1043.21" stroke="#111" stroke-width="1.3" fill="none"/>
<circle cx="368.5" cy="1039.01" r="3.1" fill="#ee6a6c"/>
<line x1="167.0" y1="1039.01" x2="171.5" y2="1039.01" stroke="#333" stroke-width="1.2"/>
<text transform="translate(162,1048.31) scale(1,1.06)" text-anchor="end" class="sb g" font-size="26">N,ET</text>
<path d="M321.3 1067.98H325.7M321.3 1063.78V1072.18M325.7 1063.78V1072.18" stroke="#111" stroke-width="1.3" fill="none"/>
<circle cx="323.5" cy="1067.98" r="3.1" fill="#ee6a6c"/>
<line x1="167.0" y1="1067.98" x2="171.5" y2="1067.98" stroke="#333" stroke-width="1.2"/>
<text transform="translate(162,1077.28) scale(1,1.06)" text-anchor="end" class="sb g" font-size="26">N,CES</text>
<path d="M356.3 1096.9499999999998H360.7M356.3 1092.7499999999998V1101.1499999999999M360.7 1092.7499999999998V1101.1499999999999" stroke="#111" stroke-width="1.3" fill="none"/>
<circle cx="358.5" cy="1096.9499999999998" r="3.1" fill="#ee6a6c"/>
<line x1="167.0" y1="1096.9499999999998" x2="171.5" y2="1096.9499999999998" stroke="#333" stroke-width="1.2"/>
<text transform="translate(162,1106.2499999999998) scale(1,1.06)" text-anchor="end" class="sb g" font-size="26">CES,ET</text>
<rect x="171.5" y="935.3" width="416.5" height="179" fill="none" stroke="#3a3a3a" stroke-width="1.2"/>
<path d="M171.5 935.3V1114.3H588" fill="none" stroke="#1a1a1a" stroke-width="1.8"/>
<line x1="213.7" y1="1114.3" x2="213.7" y2="1118.8" stroke="#333" stroke-width="1.2"/>
<text transform="translate(213.7,1143.0) scale(1.015,1.13)" text-anchor="middle" class="sb g" font-size="26.2">0.00</text>
<line x1="308.4" y1="1114.3" x2="308.4" y2="1118.8" stroke="#333" stroke-width="1.2"/>
<text transform="translate(308.4,1143.0) scale(1.015,1.13)" text-anchor="middle" class="sb g" font-size="26.2">0.02</text>
<line x1="403.0" y1="1114.3" x2="403.0" y2="1118.8" stroke="#333" stroke-width="1.2"/>
<text transform="translate(403.0,1143.0) scale(1.015,1.13)" text-anchor="middle" class="sb g" font-size="26.2">0.04</text>
<line x1="497.7" y1="1114.3" x2="497.7" y2="1118.8" stroke="#333" stroke-width="1.2"/>
<text transform="translate(497.7,1143.0) scale(1.015,1.13)" text-anchor="middle" class="sb g" font-size="26.2">0.06</text>
<text x="608" y="122" class="sb" font-size="50">N</text>
<text x="608" y="346.5" class="sb" font-size="50">CES</text>
<text x="608" y="576" class="sb" font-size="50">ET</text>
<text x="608" y="806" class="sb" font-size="50">S</text>
<text x="608" y="1035.5" class="sb" font-size="50">WS</text>
<text transform="translate(37,633.8) rotate(-90) scale(1.18,1)" text-anchor="middle" class="sb" font-size="48.5">Source population</text>
<text x="341.5" y="1203.5" class="sb" font-size="48">f<tspan font-size="29.5" dy="15.5" dx="1">3</tspan></text>
<use href="#basemap" x="867.55" y="9.75"/>
<g transform="translate(867.55,9.75)"><g stroke="#c5b0aa" stroke-width="1.6" stroke-dasharray="5.7 3.4" fill="none"><line x1="139.0" y1="0.1" x2="139.0" y2="567.8"/><line x1="278.0" y1="0.1" x2="278.0" y2="567.8"/><line x1="417.0" y1="0.1" x2="417.0" y2="567.8"/><line x1="0.8" y1="81.2" x2="553.0" y2="81.2"/><line x1="0.8" y1="243.8" x2="553.0" y2="243.8"/><line x1="0.8" y1="406.2" x2="553.0" y2="406.2"/></g><g clip-path="url(#tanclip)"><g stroke="#a3abbc" stroke-width="1.6" stroke-dasharray="5.7 3.4" fill="none"><line x1="139.0" y1="0.1" x2="139.0" y2="567.8"/><line x1="278.0" y1="0.1" x2="278.0" y2="567.8"/><line x1="417.0" y1="0.1" x2="417.0" y2="567.8"/><line x1="0.8" y1="81.2" x2="553.0" y2="81.2"/><line x1="0.8" y1="243.8" x2="553.0" y2="243.8"/><line x1="0.8" y1="406.2" x2="553.0" y2="406.2"/></g></g></g>
<path d="M1064.6 269.8 C1067.3 269.4 1074.4 267.7 1080.7 267.6 C1087.0 267.5 1095.2 268.4 1102.4 269.4 C1109.6 270.4 1116.8 272.5 1124.1 273.7 C1131.3 274.9 1138.7 276.2 1145.9 276.8 C1153.2 277.4 1160.4 277.4 1167.6 277.3 C1174.8 277.2 1183.4 276.6 1189.3 276.5 C1195.2 276.4 1199.2 276.0 1203.0 276.6 C1206.8 277.2 1208.4 277.7 1212.4 280.4 C1216.4 283.1 1223.3 290.5 1226.9 292.6 C1230.5 294.7 1230.5 293.5 1234.0 292.8 C1237.5 292.1 1243.0 290.2 1248.0 288.5 C1253.0 286.8 1259.0 284.0 1264.0 282.4 C1269.0 280.8 1273.5 280.0 1278.0 279.0 C1282.5 278.0 1288.8 277.0 1291.0 276.6" fill="none" stroke="#0a0a0a" stroke-width="2.7" stroke-linecap="round"/>
<rect x="1135.0" y="191.2" width="13.2" height="15.6" fill="#4a9e8c"/>
<rect x="1175.8" y="189.2" width="13.2" height="15.6" fill="#52ab8a"/>
<rect x="1243.4" y="225.2" width="13.2" height="15.6" fill="#4ea48a"/>
<rect x="1276.0" y="224.4" width="13.2" height="15.6" fill="#55ad8b"/>
<rect x="1228.6" y="238.0" width="13.2" height="15.6" fill="#4a9e8c"/>
<rect x="1041.3" y="245.0" width="13.2" height="15.6" fill="#4a5f9a"/>
<rect x="1097.8" y="276.1" width="13.2" height="15.6" fill="#40789a"/>
<rect x="1031.8" y="295.6" width="13.2" height="15.6" fill="#3f8494"/>
<rect x="1194.0" y="291.5" width="13.2" height="15.6" fill="#4fa48b"/>
<rect x="1252.4" y="289.4" width="13.2" height="15.6" fill="#4fa48b"/>
<rect x="1274.1" y="283.9" width="13.2" height="15.6" fill="#3f8c90"/>
<rect x="1270.0" y="297.7" width="13.2" height="15.6" fill="#3f8a90"/>
<rect x="1278.4" y="299.7" width="13.2" height="15.6" fill="#3f8a90"/>
<rect x="1286.4" y="302.9" width="13.2" height="15.6" fill="#3f8a90"/>
<rect x="1297.9" y="296.7" width="13.2" height="15.6" fill="#3f8a90"/>
<rect x="1291.4" y="301.2" width="13.2" height="15.6" fill="#3f8a90"/>
<rect x="1285.4" y="314.2" width="13.2" height="15.6" fill="#3f8a90"/>
<rect x="1163.0" y="312.8" width="13.2" height="15.6" fill="#41789a"/>
<rect x="1169.0" y="320.5" width="13.2" height="15.6" fill="#41789a"/>
<rect x="1235.8" y="317.8" width="13.2" height="15.6" fill="#489a8c"/>
<rect x="1261.7" y="316.3" width="13.2" height="15.6" fill="#428792"/>
<rect x="1197.7" y="329.2" width="13.2" height="15.6" fill="#43699a"/>
<rect x="1286.9" y="332.9" width="13.2" height="15.6" fill="#3f8592"/>
<rect x="1158.6" y="343.9" width="13.2" height="15.6" fill="#3f8094"/>
<rect x="1235.8" y="343.2" width="13.2" height="15.6" fill="#407896"/>
<rect x="1250.9" y="348.0" width="13.2" height="15.6" fill="#417498"/>
<rect x="1270.6" y="341.2" width="13.2" height="15.6" fill="#408194"/>
<rect x="1173.1" y="355.0" width="13.2" height="15.6" fill="#455f9a"/>
<rect x="1179.4" y="357.7" width="13.2" height="15.6" fill="#455f9a"/>
<rect x="1190.7" y="365.0" width="13.2" height="15.6" fill="#44639a"/>
<rect x="924.0" y="331.9" width="13.2" height="15.6" fill="#41709a"/>
<rect x="1070.7" y="333.1" width="13.2" height="15.6" fill="#43689a"/>
<rect x="1090.5" y="333.9" width="13.2" height="15.6" fill="#43689a"/>
<rect x="997.2" y="361.9" width="13.2" height="15.6" fill="#426c9a"/>
<rect x="1110.6" y="382.1" width="13.2" height="15.6" fill="#463f8a"/>
<rect x="1151.9" y="392.9" width="13.2" height="15.6" fill="#46408a"/>
<rect x="1053.3" y="399.5" width="13.2" height="15.6" fill="#3f7a96"/>
<rect x="1038.4" y="407.0" width="13.2" height="15.6" fill="#44629a"/>
<rect x="1111.6" y="413.0" width="13.2" height="15.6" fill="#3f0d5c"/>
<rect x="1234.6" y="405.9" width="13.2" height="15.6" fill="#46408a"/>
<rect x="1261.9" y="400.8" width="13.2" height="15.6" fill="#3f7596"/>
<rect x="1222.0" y="418.8" width="13.2" height="15.6" fill="#452a78"/>
<rect x="1229.2" y="429.5" width="13.2" height="15.6" fill="#445d98"/>
<rect x="1202.5" y="428.1" width="13.2" height="15.6" fill="#44307d"/>
<rect x="1012.1" y="456.4" width="13.2" height="15.6" fill="#46307e"/>
<rect x="1148.3" y="495.3" width="13.2" height="15.6" fill="#420a57"/>
<text x="1069.7" y="263" class="sb" font-size="15.35">Tsinling Mountains</text>
<text x="1213.3" y="277.5" class="sb" font-size="15.3">Huai River</text>
<text x="861.5" y="94.6" text-anchor="end" class="ss" font-size="9.6">45°N</text>
<text x="861.5" y="257.1" text-anchor="end" class="ss" font-size="9.6">35°N</text>
<text x="861.5" y="419.6" text-anchor="end" class="ss" font-size="9.6">25°N</text>
<text x="861.5" y="582.1" text-anchor="end" class="ss" font-size="9.6">15°N</text>
<text x="1009.0" y="592.9" text-anchor="middle" class="ss" font-size="9.6">100°E</text>
<text x="1145.8" y="592.9" text-anchor="middle" class="ss" font-size="9.6">110°E</text>
<text x="1282.6" y="592.9" text-anchor="middle" class="ss" font-size="9.6">120°E</text>
<text x="1419.4" y="592.9" text-anchor="middle" class="ss" font-size="9.6">130°E</text>
<rect x="1333" y="316.5" width="14.4" height="74" fill="url(#viridis)"/>
<text transform="translate(1348.2,321.5) scale(1,1.2)" class="sb" font-size="13.4">0.01</text>
<text transform="translate(1348.2,358.1) scale(1,1.2)" class="sb" font-size="13.4">0.00</text>
<text transform="translate(1348.2,394.9) scale(1,1.2)" class="sb" font-size="13.4">-0.01</text>
<text x="1333" y="297" class="sb" font-size="29.5">f<tspan font-size="17.5" dy="9.5" dx="-0.5">4</tspan></text>
<use href="#basemap" x="868.85" y="625.1"/>
<g transform="translate(868.85,625.1)"><g stroke="#c5b0aa" stroke-width="1.6" stroke-dasharray="5.7 3.4" fill="none"><line x1="139.0" y1="0.1" x2="139.0" y2="567.8"/><line x1="278.0" y1="0.1" x2="278.0" y2="567.8"/><line x1="417.0" y1="0.1" x2="417.0" y2="567.8"/><line x1="0.8" y1="81.2" x2="553.0" y2="81.2"/><line x1="0.8" y1="243.8" x2="553.0" y2="243.8"/><line x1="0.8" y1="406.2" x2="553.0" y2="406.2"/></g><g clip-path="url(#tanclip)"><g stroke="#a3abbc" stroke-width="1.6" stroke-dasharray="5.7 3.4" fill="none"><line x1="139.0" y1="0.1" x2="139.0" y2="567.8"/><line x1="278.0" y1="0.1" x2="278.0" y2="567.8"/><line x1="417.0" y1="0.1" x2="417.0" y2="567.8"/><line x1="0.8" y1="81.2" x2="553.0" y2="81.2"/><line x1="0.8" y1="243.8" x2="553.0" y2="243.8"/><line x1="0.8" y1="406.2" x2="553.0" y2="406.2"/></g></g></g>
<path d="M1327.3 624.6 C1327.1 627.3 1327.4 634.6 1326.2 640.7 C1325.0 646.8 1322.8 654.5 1320.0 661.4 C1317.2 668.3 1314.9 675.1 1309.7 682.0 C1304.5 688.9 1296.2 695.2 1289.0 702.8 C1281.8 710.4 1273.8 719.3 1266.2 727.6 C1258.6 735.9 1250.7 743.4 1243.5 752.4 C1236.3 761.4 1229.7 771.7 1222.8 781.4 C1215.9 791.1 1207.9 800.8 1202.0 810.4 C1196.1 820.0 1191.5 829.6 1187.6 839.3 C1183.6 848.9 1180.5 858.3 1178.3 868.3 C1176.0 878.3 1175.2 889.9 1174.1 899.3 C1173.0 908.7 1172.1 916.3 1171.9 924.7 C1171.7 933.1 1172.4 941.2 1173.1 949.5 C1173.8 957.8 1175.9 966.4 1176.3 974.3 C1176.7 982.2 1177.0 989.2 1175.6 996.7 C1174.2 1004.2 1171.6 1011.5 1168.1 1019.0 C1164.6 1026.5 1160.1 1033.5 1154.5 1041.4 C1148.9 1049.3 1141.4 1058.0 1134.6 1066.2 C1127.8 1074.4 1117.0 1086.5 1113.5 1090.5" fill="none" stroke="#0a0a0a" stroke-width="2.7" stroke-linecap="round"/>
<rect x="1364.1" y="678.0" width="13.2" height="15.6" fill="#4ea98b"/>
<rect x="1178.3" y="805.2" width="13.2" height="15.6" fill="#4da68b"/>
<rect x="1137.5" y="806.7" width="13.2" height="15.6" fill="#45958d"/>
<rect x="1245.8" y="840.8" width="13.2" height="15.6" fill="#51ab8a"/>
<rect x="1278.2" y="840.2" width="13.2" height="15.6" fill="#51ab8a"/>
<rect x="1230.6" y="853.9" width="13.2" height="15.6" fill="#4ea68b"/>
<rect x="1042.9" y="860.7" width="13.2" height="15.6" fill="#44709a"/>
<rect x="1100.0" y="892.6" width="13.2" height="15.6" fill="#417e95"/>
<rect x="1033.4" y="911.2" width="13.2" height="15.6" fill="#408c92"/>
<rect x="1196.3" y="907.5" width="13.2" height="15.6" fill="#4ea68b"/>
<rect x="1254.1" y="904.0" width="13.2" height="15.6" fill="#4fa68a"/>
<rect x="1276.5" y="900.7" width="13.2" height="15.6" fill="#52ad88"/>
<rect x="1272.0" y="913.2" width="13.2" height="15.6" fill="#56b284"/>
<rect x="1282.4" y="915.2" width="13.2" height="15.6" fill="#60bb7c"/>
<rect x="1292.6" y="918.1" width="13.2" height="15.6" fill="#6cc673"/>
<rect x="1299.8" y="912.4" width="13.2" height="15.6" fill="#6fc870"/>
<rect x="1288.1" y="929.3" width="13.2" height="15.6" fill="#7ed05f"/>
<rect x="1264.1" y="931.8" width="13.2" height="15.6" fill="#5cb880"/>
<rect x="1238.0" y="933.0" width="13.2" height="15.6" fill="#4da58b"/>
<rect x="1288.9" y="947.9" width="13.2" height="15.6" fill="#56b285"/>
<rect x="1272.8" y="956.6" width="13.2" height="15.6" fill="#5ab782"/>
<rect x="1164.3" y="928.1" width="13.2" height="15.6" fill="#49a08c"/>
<rect x="1171.0" y="936.2" width="13.2" height="15.6" fill="#49a08c"/>
<rect x="1200.0" y="944.2" width="13.2" height="15.6" fill="#459a8d"/>
<rect x="1238.0" y="958.6" width="13.2" height="15.6" fill="#4ba38b"/>
<rect x="1253.4" y="963.6" width="13.2" height="15.6" fill="#417e95"/>
<rect x="1160.8" y="959.6" width="13.2" height="15.6" fill="#48a08c"/>
<rect x="1092.8" y="949.2" width="13.2" height="15.6" fill="#417e95"/>
<rect x="1072.4" y="949.2" width="13.2" height="15.6" fill="#417e95"/>
<rect x="1177.2" y="970.2" width="13.2" height="15.6" fill="#46998d"/>
<rect x="1183.4" y="974.2" width="13.2" height="15.6" fill="#46998d"/>
<rect x="1193.1" y="980.7" width="13.2" height="15.6" fill="#46998d"/>
<rect x="1113.1" y="997.6" width="13.2" height="15.6" fill="#428495"/>
<rect x="1155.3" y="1008.2" width="13.2" height="15.6" fill="#479b8d"/>
<rect x="1114.4" y="1028.6" width="13.2" height="15.6" fill="#428495"/>
<rect x="1236.8" y="1021.2" width="13.2" height="15.6" fill="#479c8d"/>
<rect x="1264.1" y="1016.2" width="13.2" height="15.6" fill="#4ca58b"/>
<rect x="1224.1" y="1034.3" width="13.2" height="15.6" fill="#45968e"/>
<rect x="1231.5" y="1044.7" width="13.2" height="15.6" fill="#489c8c"/>
<rect x="1205.0" y="1043.5" width="13.2" height="15.6" fill="#428c92"/>
<rect x="1153.4" y="1077.8" width="13.2" height="15.6" fill="#408592"/>
<rect x="1150.9" y="1111.0" width="13.2" height="15.6" fill="#408592"/>
<rect x="1134.0" y="1124.9" width="13.2" height="15.6" fill="#418893"/>
<rect x="998.9" y="977.7" width="13.2" height="15.6" fill="#417e95"/>
<rect x="1054.9" y="1015.2" width="13.2" height="15.6" fill="#418893"/>
<rect x="1040.4" y="1023.2" width="13.2" height="15.6" fill="#418893"/>
<rect x="1013.9" y="1072.2" width="13.2" height="15.6" fill="#417e95"/>
<text x="1075" y="926.7" class="sb" font-size="15.3">Wu Mountain</text>
<text x="1136" y="972.4" text-anchor="middle" class="sb" font-size="14.2">Xuefeng</text>
<text x="1134.6" y="986.3" text-anchor="middle" class="sb" font-size="13.9">Mountain</text>
<text transform="translate(1193.5,877.5) rotate(-65)" class="sb" font-size="15">Taihang Mountain</text>
<text transform="translate(1272.5,748) rotate(-49.6)" class="sb" font-size="15.4">the Greater Hinggan</text>
<text x="862.8" y="710.0" text-anchor="end" class="ss" font-size="9.6">45°N</text>
<text x="862.8" y="872.5" text-anchor="end" class="ss" font-size="9.6">35°N</text>
<text x="862.8" y="1034.9" text-anchor="end" class="ss" font-size="9.6">25°N</text>
<text x="862.8" y="1197.4" text-anchor="end" class="ss" font-size="9.6">15°N</text>
<text x="1010.3" y="1208.3" text-anchor="middle" class="ss" font-size="9.6">100°E</text>
<text x="1147.1" y="1208.3" text-anchor="middle" class="ss" font-size="9.6">110°E</text>
<text x="1283.9" y="1208.3" text-anchor="middle" class="ss" font-size="9.6">120°E</text>
<text x="1420.7" y="1208.3" text-anchor="middle" class="ss" font-size="9.6">130°E</text>
<rect x="1335" y="932.6" width="14.4" height="73.5" fill="url(#viridis)"/>
<text transform="translate(1350.2,937.6) scale(1,1.2)" class="sb" font-size="13.4">0.01</text>
<text transform="translate(1350.2,974.0) scale(1,1.2)" class="sb" font-size="13.4">0.00</text>
<text transform="translate(1350.2,1010.5) scale(1,1.2)" class="sb" font-size="13.4">-0.01</text>
<text x="1335" y="912.5" class="sb" font-size="29.5">f<tspan font-size="17.5" dy="9.5" dx="-0.5">4</tspan></text>
<rect x="130.6" y="1265" width="1141.2" height="619.7" fill="#fff"/>
<path d="M131.0 1492.6 L594.5 1492.6 L594.5 1527.9 L680.7 1527.9 L680.7 1539.6 L778.0 1539.6 L778.0 1445.2 L1019.0 1445.2 L1019.0 1374.6 L1249.7 1374.6 L1249.7 1413.6 L1268.6 1413.6" fill="none" stroke="#E5452F" stroke-width="3.3" stroke-opacity="0.96" stroke-linejoin="round"/>
<path d="M131.0 1521.2 L149.8 1521.2 L149.8 1609.1 L814.4 1609.1 L814.4 1391.0 L845.0 1391.0" fill="none" stroke="#4DBBD5" stroke-width="3.3" stroke-opacity="0.96" stroke-linejoin="round"/>
<path d="M131.0 1514.4 L526.3 1514.4 L526.3 1542.8 L610.0 1542.8 L610.0 1540.4 L714.8 1540.4 L714.8 1449.1 L1029.0 1449.1 L1029.0 1373.1 L1258.2 1373.1 L1258.2 1411.8 L1268.6 1411.8" fill="none" stroke="#16ab80" stroke-width="3.3" stroke-opacity="0.96" stroke-linejoin="round"/>
<path d="M131.0 1443.4 L236.2 1443.4 L236.2 1449.2 L328.5 1449.2 L328.5 1480.2 L434.0 1480.2 L434.0 1545.0 L539.2 1545.0 L539.2 1578.1 L841.3 1578.1 L841.3 1391.2 L1261.7 1391.2" fill="none" stroke="#3C5488" stroke-width="3.3" stroke-opacity="0.96" stroke-linejoin="round"/>
<path d="M131.0 1456.9 L477.1 1456.9 L477.1 1472.7 L563.5 1472.7 L563.5 1527.9 L650.1 1527.9 L650.1 1581.3 L769.0 1581.3 L769.0 1398.3 L1158.3 1398.3 L1158.3 1402.5 L1261.5 1402.5" fill="none" stroke="#F39B7F" stroke-width="3.3" stroke-opacity="0.96" stroke-linejoin="round" stroke-dasharray="12.6 12.9"/>
<path d="M131.0 1480.2 L143.7 1480.2 L143.7 1649.6 L781.2 1649.6 L781.2 1436.9 L1259.0 1436.9" fill="none" stroke="#8491B4" stroke-width="3.3" stroke-opacity="0.96" stroke-linejoin="round" stroke-dasharray="12.6 12.9"/>
<path d="M131.0 1599.6 L441.5 1599.6 L441.5 1612.5 L526.3 1612.5 L526.3 1594.9 L620.6 1594.9 L620.6 1582.5 L694.3 1582.5 L694.3 1593.6 L788.8 1593.6 L788.8 1640.4 L958.0 1640.4 L958.0 1450.9 L1258.5 1450.9" fill="none" stroke="#91D1C2" stroke-width="3.3" stroke-opacity="0.96" stroke-linejoin="round" stroke-dasharray="12.6 12.9"/>
<rect x="130.6" y="1265" width="593.6" height="619.7" fill="rgb(208,0,72)" fill-opacity="0.262"/>
<rect x="974.2" y="1265" width="90.5" height="619.7" fill="rgb(0,255,250)" fill-opacity="0.22"/>
<rect x="130.6" y="1265" width="1141.2" height="619.7" fill="none" stroke="#000" stroke-width="1.9"/>
<line x1="126.0" y1="1292.5" x2="130.6" y2="1292.5" stroke="#333" stroke-width="1.3"/>
<text transform="translate(88.3,1305.8) scale(1,1.05)" class="sr g" font-size="26">10<tspan font-size="19" dy="-11" dx="-0.8">5</tspan></text>
<line x1="126.0" y1="1480.3" x2="130.6" y2="1480.3" stroke="#333" stroke-width="1.3"/>
<text transform="translate(88.3,1493.6) scale(1,1.05)" class="sr g" font-size="26">10<tspan font-size="19" dy="-11" dx="-0.8">4</tspan></text>
<line x1="126.0" y1="1668.4" x2="130.6" y2="1668.4" stroke="#333" stroke-width="1.3"/>
<text transform="translate(88.3,1681.7) scale(1,1.05)" class="sr g" font-size="26">10<tspan font-size="19" dy="-11" dx="-0.8">3</tspan></text>
<line x1="126.0" y1="1856.5" x2="130.6" y2="1856.5" stroke="#333" stroke-width="1.3"/>
<text transform="translate(88.3,1869.8) scale(1,1.05)" class="sr g" font-size="26">10<tspan font-size="19" dy="-11" dx="-0.8">2</tspan></text>
<line x1="131" y1="1884.7" x2="131" y2="1889.3" stroke="#333" stroke-width="1.3"/>
<text transform="translate(113.7,1919.7) scale(1,1.05)" class="sr g" font-size="26">10<tspan font-size="19" dy="-11" dx="-0.8">2</tspan></text>
<line x1="501.3" y1="1884.7" x2="501.3" y2="1889.3" stroke="#333" stroke-width="1.3"/>
<text transform="translate(484.0,1919.7) scale(1,1.05)" class="sr g" font-size="26">10<tspan font-size="19" dy="-11" dx="-0.8">3</tspan></text>
<line x1="872.3" y1="1884.7" x2="872.3" y2="1889.3" stroke="#333" stroke-width="1.3"/>
<text transform="translate(855.0,1919.7) scale(1,1.05)" class="sr g" font-size="26">10<tspan font-size="19" dy="-11" dx="-0.8">4</tspan></text>
<line x1="1242.6" y1="1884.7" x2="1242.6" y2="1889.3" stroke="#333" stroke-width="1.3"/>
<text transform="translate(1225.3,1919.7) scale(1,1.05)" class="sr g" font-size="26">10<tspan font-size="19" dy="-11" dx="-0.8">5</tspan></text>
<text x="702.5" y="1946.5" text-anchor="middle" class="sb" font-size="27.5">Years</text>
<text transform="translate(72,1574) rotate(-90)" text-anchor="middle" class="sr" font-size="27">N<tspan font-size="19" dy="5">e</tspan></text>
<text x="409" y="1309" text-anchor="middle" class="sb" font-size="39.5">Meghalayan</text>
<text x="1021" y="1308" text-anchor="middle" class="sb" font-size="39.5">LGM</text>
<text x="793.5" y="1294" text-anchor="middle" class="sb" font-size="30">5.9 kya</text>
<text x="850" y="1330" text-anchor="middle" class="sb" font-size="29.8">8.2 kya</text>
<text x="721.5" y="1366.5" text-anchor="middle" class="sb" font-size="29.8">4.2 kya</text>
<line x1="786.9" y1="1304.8" x2="786.9" y2="1346.8" stroke="#7a4a12" stroke-width="3.2"/><path d="M786.9 1354.8 L776.5 1341.8 Q786.9 1347.0 797.3 1341.8 Z" fill="#7a4a12"/>
<line x1="840.3" y1="1333.4" x2="840.3" y2="1374.8" stroke="#7a4a12" stroke-width="3.2"/><path d="M840.3 1382.8 L829.9 1369.8 Q840.3 1375.0 850.6999999999999 1369.8 Z" fill="#7a4a12"/>
<line x1="721.6" y1="1379.3" x2="721.6" y2="1421.3" stroke="#7a4a12" stroke-width="3.2"/><path d="M721.6 1429.3 L711.2 1416.3 Q721.6 1421.5 732.0 1416.3 Z" fill="#7a4a12"/>
<text x="1279" y="1414.5" class="sb" font-size="36.5">Population</text>
<line x1="1304.5" y1="1454" x2="1341.5" y2="1454" stroke="#E5452F" stroke-width="3.3" stroke-opacity="0.96"/>
<text x="1361" y="1463.3" class="sb" font-size="27">CES</text>
<line x1="1304.5" y1="1500.5" x2="1341.5" y2="1500.5" stroke="#4DBBD5" stroke-width="3.3" stroke-opacity="0.96"/>
<text x="1361" y="1509.8" class="sb" font-size="27">ET</text>
<line x1="1304.5" y1="1546.8" x2="1341.5" y2="1546.8" stroke="#16ab80" stroke-width="3.3" stroke-opacity="0.96"/>
<text x="1361" y="1556.1" class="sb" font-size="27">N</text>
<line x1="1304.5" y1="1593.4" x2="1341.5" y2="1593.4" stroke="#3C5488" stroke-width="3.3" stroke-opacity="0.96"/>
<text x="1361" y="1602.7" class="sb" font-size="27">S</text>
<line x1="1304.5" y1="1639.8" x2="1341.5" y2="1639.8" stroke="#F39B7F" stroke-width="3.3" stroke-opacity="0.96" stroke-dasharray="12.6 12.9"/>
<text x="1361" y="1649.1" class="sb" font-size="27">WS</text>
<line x1="1304.5" y1="1686.3" x2="1341.5" y2="1686.3" stroke="#8491B4" stroke-width="3.3" stroke-opacity="0.96" stroke-dasharray="12.6 12.9"/>
<text x="1361" y="1695.6" class="sb" font-size="27">EUD</text>
<line x1="1304.5" y1="1732.8" x2="1341.5" y2="1732.8" stroke="#91D1C2" stroke-width="3.3" stroke-opacity="0.96" stroke-dasharray="12.6 12.9"/>
<text x="1361" y="1742.1" class="sb" font-size="27">EUW</text>
<text x="3" y="78.5" class="sb" font-size="114">A</text>
<text x="693.1" y="76.2" class="sb" font-size="114">B</text>
<text x="689.2" y="687.8" class="sb" font-size="118">C</text>
<text x="2.7" y="1276.7" class="sb" font-size="114">D</text>
</svg></body></html>
